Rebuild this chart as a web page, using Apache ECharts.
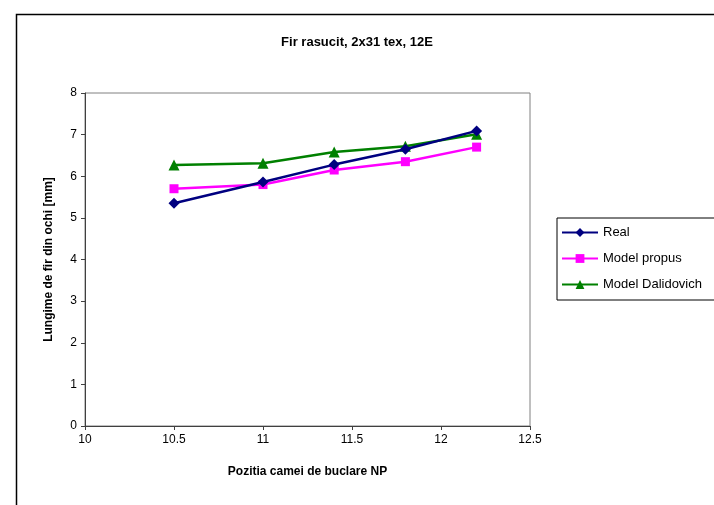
<!DOCTYPE html>
<html>
<head>
<meta charset="utf-8">
<script src="https://cdn.jsdelivr.net/npm/echarts@6/dist/echarts.min.js"></script>
<style>
  html, body { margin: 0; padding: 0; background: #fff; }
  #chart { width: 714px; height: 505px; }
</style>
</head>
<body>
<div id="chart"></div>
<script>
// pozitia camei de buclare NP
const pozitie = [10.5, 11, 11.4, 11.8, 12.2]
// lungime de fir din ochi [mm]
const real = [5.35, 5.86, 6.28, 6.65, 7.09]
const modelPropus = [5.70, 5.80, 6.15, 6.35, 6.70]
const modelDalidovich = [6.27, 6.31, 6.58, 6.72, 7.01]

const pairs = (ys) => pozitie.map((x, i) => [x, ys[i]])

const chart = echarts.init(document.getElementById('chart'))
const font = 'Liberation Sans, Arial, sans-serif'

chart.setOption({
  animation: false,
  backgroundColor: '#fff',
  textStyle: { fontFamily: font },
  graphic: [
    {
      type: 'rect',
      left: 14,
      top: 12,
      shape: { width: 800, height: 600 },
      style: { fill: 'none', stroke: '#000', lineWidth: 1.5 },
      z: -1
    }
  ],
  title: {
    text: 'Fir rasucit, 2x31 tex, 12E',
    left: 'center',
    top: 31,
    textStyle: { fontSize: 13, fontWeight: 'bold', color: '#000', fontFamily: font }
  },
  legend: {
    orient: 'vertical',
    left: 557,
    top: 218,
    padding: [8, 30, 9, 4],
    itemGap: 13,
    itemWidth: 36,
    itemHeight: 11,
    borderColor: '#000',
    borderWidth: 1,
    borderRadius: 0,
    textStyle: { fontSize: 13, color: '#000', fontFamily: font },
    data: ['Real', 'Model propus', 'Model Dalidovich']
  },
  grid: {
    left: 85,
    right: 184,
    top: 93,
    bottom: 79,
    show: true,
    borderColor: '#808080',
    borderWidth: 1
  },
  xAxis: {
    type: 'value',
    min: 10,
    max: 12.5,
    interval: 0.5,
    name: 'Pozitia camei de buclare NP',
    nameLocation: 'middle',
    nameGap: 40,
    nameTextStyle: { fontSize: 12, fontWeight: 'bold', color: '#000' },
    axisLine: { lineStyle: { color: '#404040', width: 1 } },
    axisTick: { show: true, length: 4, lineStyle: { color: '#404040' } },
    axisLabel: { fontSize: 12, color: '#000', margin: 8 },
    splitLine: { show: false }
  },
  yAxis: {
    type: 'value',
    min: 0,
    max: 8,
    interval: 1,
    name: 'Lungime de fir din ochi [mm]',
    nameLocation: 'middle',
    nameGap: 30,
    nameTextStyle: { fontSize: 12, fontWeight: 'bold', color: '#000' },
    axisLine: { show: true, lineStyle: { color: '#404040', width: 1 } },
    axisTick: { show: true, length: 4, lineStyle: { color: '#404040' } },
    axisLabel: { fontSize: 12, color: '#000', margin: 8 },
    splitLine: { show: false }
  },
  series: [
    {
      name: 'Real',
      type: 'line',
      data: pairs(real),
      symbol: 'diamond',
      symbolSize: 11,
      color: '#000080',
      lineStyle: { width: 2.5, color: '#000080' },
      z: 3
    },
    {
      name: 'Model propus',
      type: 'line',
      data: pairs(modelPropus),
      symbol: 'rect',
      symbolSize: 9,
      color: '#ff00ff',
      lineStyle: { width: 2.5, color: '#ff00ff' },
      z: 2
    },
    {
      name: 'Model Dalidovich',
      type: 'line',
      data: pairs(modelDalidovich),
      symbol: 'triangle',
      symbolSize: 11,
      color: '#008000',
      lineStyle: { width: 2.5, color: '#008000' },
      z: 2
    }
  ]
})

window.addEventListener('resize', function() {
  chart.resize()
})
</script>
</body>
</html>
